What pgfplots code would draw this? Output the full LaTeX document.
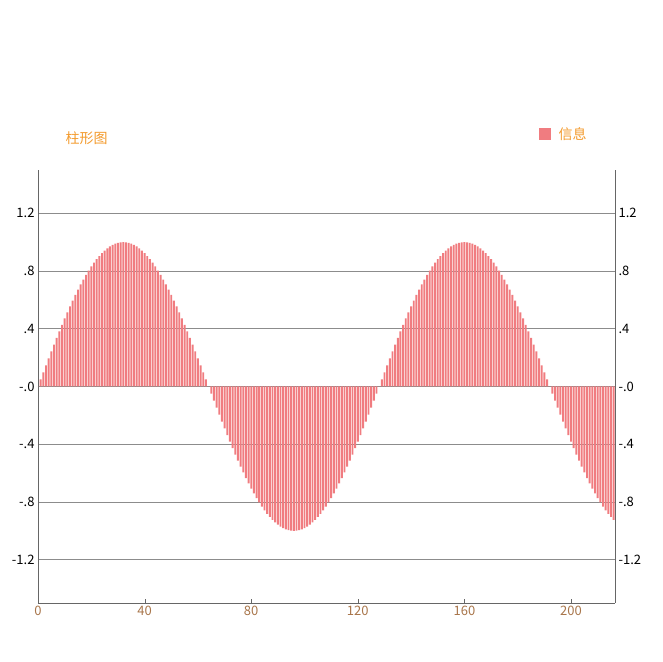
\documentclass[border=0pt]{standalone}
\usepackage{pgfplots}
\pgfplotsset{compat=1.18}
\usepackage{fontspec}
\setmainfont{Noto Sans CJK SC}
\definecolor{barred}{HTML}{F07C80}
\definecolor{ttl}{HTML}{F39A2C}
\definecolor{xlab}{HTML}{A8754A}
\begin{document}
\begin{tikzpicture}[x=1pt,y=1pt]
\useasboundingbox (0,0) rectangle (662,662);
\pgfplotsset{myax/.style={
  at={(38pt,59pt)}, anchor=south west, width=577pt, height=433pt, scale only axis,
  xmin=0, xmax=216.5, ymin=-1.5, ymax=1.5,
  ytick={-1.2,-0.8,-0.4,0,0.4,0.8,1.2},
  yticklabels={-1.2,-.8,-.4,-.0,.4,.8,1.2},
  tick label style={font=\fontsize{13}{15}\selectfont},
  major tick length=4pt, tick style={black!60},
}}
\begin{axis}[myax,
  axis x line*=bottom, axis y line*=left,
  axis line style={black!60},
  xtick={0,40,80,120,160,200},
  xticklabel style={text=xlab},
  ytick style={draw=none},
  ymajorgrids, grid style={black!45, line width=0.6pt},
  /pgf/number format/assume math mode=true,
]
\addplot[ybar, bar width=0.72, fill=barred, draw=none] table[x expr=\coordindex, y index=0, header=false] {
0
0.0491
0.0980
0.1467
0.1951
0.2430
0.2903
0.3369
0.3827
0.4276
0.4714
0.5141
0.5556
0.5957
0.6344
0.6716
0.7071
0.7410
0.7730
0.8032
0.8315
0.8577
0.8819
0.9040
0.9239
0.9415
0.9569
0.9700
0.9808
0.9892
0.9952
0.9988
1
0.9988
0.9952
0.9892
0.9808
0.9700
0.9569
0.9415
0.9239
0.9040
0.8819
0.8577
0.8315
0.8032
0.7730
0.7410
0.7071
0.6716
0.6344
0.5957
0.5556
0.5141
0.4714
0.4276
0.3827
0.3369
0.2903
0.2430
0.1951
0.1467
0.0980
0.0491
0
-0.0491
-0.0980
-0.1467
-0.1951
-0.2430
-0.2903
-0.3369
-0.3827
-0.4276
-0.4714
-0.5141
-0.5556
-0.5957
-0.6344
-0.6716
-0.7071
-0.7410
-0.7730
-0.8032
-0.8315
-0.8577
-0.8819
-0.9040
-0.9239
-0.9415
-0.9569
-0.9700
-0.9808
-0.9892
-0.9952
-0.9988
-1
-0.9988
-0.9952
-0.9892
-0.9808
-0.9700
-0.9569
-0.9415
-0.9239
-0.9040
-0.8819
-0.8577
-0.8315
-0.8032
-0.7730
-0.7410
-0.7071
-0.6716
-0.6344
-0.5957
-0.5556
-0.5141
-0.4714
-0.4276
-0.3827
-0.3369
-0.2903
-0.2430
-0.1951
-0.1467
-0.0980
-0.0491
0
0.0491
0.0980
0.1467
0.1951
0.2430
0.2903
0.3369
0.3827
0.4276
0.4714
0.5141
0.5556
0.5957
0.6344
0.6716
0.7071
0.7410
0.7730
0.8032
0.8315
0.8577
0.8819
0.9040
0.9239
0.9415
0.9569
0.9700
0.9808
0.9892
0.9952
0.9988
1
0.9988
0.9952
0.9892
0.9808
0.9700
0.9569
0.9415
0.9239
0.9040
0.8819
0.8577
0.8315
0.8032
0.7730
0.7410
0.7071
0.6716
0.6344
0.5957
0.5556
0.5141
0.4714
0.4276
0.3827
0.3369
0.2903
0.2430
0.1951
0.1467
0.0980
0.0491
0
-0.0491
-0.0980
-0.1467
-0.1951
-0.2430
-0.2903
-0.3369
-0.3827
-0.4276
-0.4714
-0.5141
-0.5556
-0.5957
-0.6344
-0.6716
-0.7071
-0.7410
-0.7730
-0.8032
-0.8315
-0.8577
-0.8819
-0.9040
-0.9239
};
\end{axis}
\begin{axis}[myax,
  axis x line=none, axis y line*=right,
  axis line style={black!60},
  ytick style={draw=none},
  /pgf/number format/assume math mode=true,
]
\addplot[draw=none] coordinates {(0,0)};
\end{axis}
\node[anchor=west, text=ttl, font=\fontsize{14}{16}\selectfont] at (62,524) {柱形图};
\fill[barred] (539,522) rectangle (551,534);
\node[anchor=west, text=ttl, font=\fontsize{14}{16}\selectfont] at (555,528) {信息};
\end{tikzpicture}
\end{document}
